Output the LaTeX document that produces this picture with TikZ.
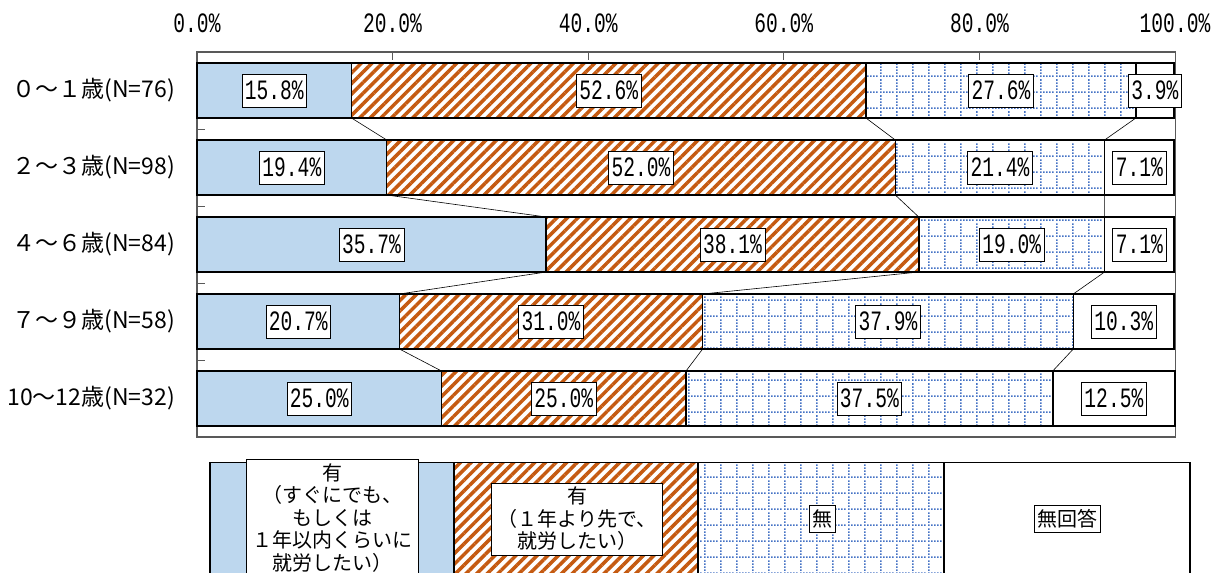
\documentclass[tikz,border=0pt]{standalone}
\usepackage{fontspec}
\setmainfont{Noto Sans CJK JP}
\newfontfamily\numfont[FakeStretch=0.7]{Liberation Mono}
\usetikzlibrary{patterns,patterns.meta}
\definecolor{barblue}{HTML}{BDD7EE}
\definecolor{hatchorange}{HTML}{C55A11}
\definecolor{gridblue}{HTML}{4472C4}
\definecolor{framegray}{HTML}{595959}
\pgfdeclarepatternformonly{dotgrid}{\pgfpointorigin}{\pgfpoint{16pt}{16pt}}{\pgfpoint{16pt}{16pt}}{
  \foreach \k in {0,...,4}{
    \pgfpathrectangle{\pgfpoint{\k*3.2pt}{0pt}}{\pgfpoint{1.6pt}{1.6pt}}
    \pgfpathrectangle{\pgfpoint{0pt}{\k*3.2pt}}{\pgfpoint{1.6pt}{1.6pt}}
  }
  \pgfusepath{fill}
}
\begin{document}
\begin{tikzpicture}[x=1pt,y=-1pt,
  seg/.style={draw=black,line width=1.5pt,minimum height=55pt,inner sep=0pt,outer sep=0pt,anchor=west},
  now/.style={fill=barblue},
  later/.style={pattern={Lines[angle=45,distance=7.5pt,line width=3.5pt]},pattern color=hatchorange},
  none/.style={pattern=dotgrid,pattern color=gridblue},
  pct/.style={draw=black,line width=0.6pt,fill=white,inner xsep=3pt,inner ysep=2pt,minimum height=33pt,
    font=\numfont\fontsize{28}{28}\selectfont},
  ticklbl/.style={inner sep=0pt,font=\numfont\fontsize{28}{28}\selectfont},
  cat/.style={anchor=east,inner sep=0pt,font=\fontsize{23}{23}\selectfont},
  link/.style={draw=black,line width=0.6pt},
  keylbl/.style={draw=black,line width=0.6pt,fill=white,align=center,inner xsep=6pt,inner ysep=4pt,
    font=\fontsize{20}{22.5}\selectfont}]
\useasboundingbox (0,0) rectangle (1221,573);
\clip (0,0) rectangle (1221,573);
% axis
\draw[framegray,line width=1.5pt] (197,52) rectangle (1175.5,437);
\foreach \i in {1,...,4}
  \draw[framegray,line width=1pt] ({197+195.6*\i},52) -- ({197+195.6*\i},60);
\foreach \i in {1,...,4}
  \draw[framegray,line width=1pt] (197,{52+77*\i}) -- (205,{52+77*\i});
\foreach \i/\p in {0/0,1/20,2/40,3/60,4/80,5/100}
  \node[ticklbl] (t\i) at ({197+195.6*\i},23) {\p.0\%};
% bars
\foreach \r/\name/\ca/\cb/\cc/\cd/\va/\vb/\vc/\vd in {
  1/{０～１歳(N=76)}/15.8/68.4/96.0/99.9/15.8/52.6/27.6/3.9,
  2/{２～３歳(N=98)}/19.4/71.4/92.8/99.9/19.4/52.0/21.4/7.1,
  3/{４～６歳(N=84)}/35.7/73.8/92.8/99.9/35.7/38.1/19.0/7.1,
  4/{７～９歳(N=58)}/20.7/51.7/89.6/99.9/20.7/31.0/37.9/10.3,
  5/{10～12歳(N=32)}/25.0/50.0/87.5/100/25.0/25.0/37.5/12.5}{
  \pgfmathsetmacro\ym{90.5+77*(\r-1)}
  \pgfmathsetmacro\xa{197+9.78*\ca}
  \pgfmathsetmacro\xb{197+9.78*\cb}
  \pgfmathsetmacro\xc{197+9.78*\cc}
  \pgfmathsetmacro\xd{197+9.78*\cd}
  \node[cat] (c\r) at (175,\ym) {\name};
  \node[seg,now,minimum width=\xa-197] (s\r-1) at (197,\ym) {};
  \node[seg,later,minimum width=\xb-\xa] (s\r-2) at (\xa,\ym) {};
  \node[seg,none,minimum width=\xc-\xb] (s\r-3) at (\xb,\ym) {};
  \node[seg,minimum width=\xd-\xc] (s\r-4) at (\xc,\ym) {};
  \node[pct] (p\r-1) at (s\r-1) {\va\%};
  \node[pct] (p\r-2) at (s\r-2) {\vb\%};
  \node[pct] (p\r-3) at (s\r-3) {\vc\%};
  \node[pct] (p\r-4) at (s\r-4) {\vd\%};
}
% series lines
\foreach \r in {1,...,4}{
  \pgfmathtruncatemacro\n{\r+1}
  \foreach \k in {1,2,3}
    \draw[link] (s\r-\k.south east) -- (s\n-\k.north east);
}
% legend
\node[seg,now,anchor=north west,minimum width=244,minimum height=125] (k1) at (210,462.5) {};
\node[seg,later,anchor=north west,minimum width=244,minimum height=125] (k2) at (k1.north east) {};
\node[seg,none,anchor=north west,minimum width=246,minimum height=125] (k3) at (k2.north east) {};
\node[seg,anchor=north west,minimum width=246,minimum height=125] (k4) at (k3.north east) {};
\node[keylbl] (l1) at (332.5,518) {有\\（すぐにでも、\\もしくは\\１年以内くらいに\\就労したい）};
\node[keylbl] (l2) at (577,519) {有\\（１年より先で、\\就労したい）};
\node[keylbl,inner xsep=3pt] (l3) at (822,519) {無};
\node[keylbl,inner xsep=3pt] (l4) at (1067,519) {無回答};
\end{tikzpicture}
\end{document}
